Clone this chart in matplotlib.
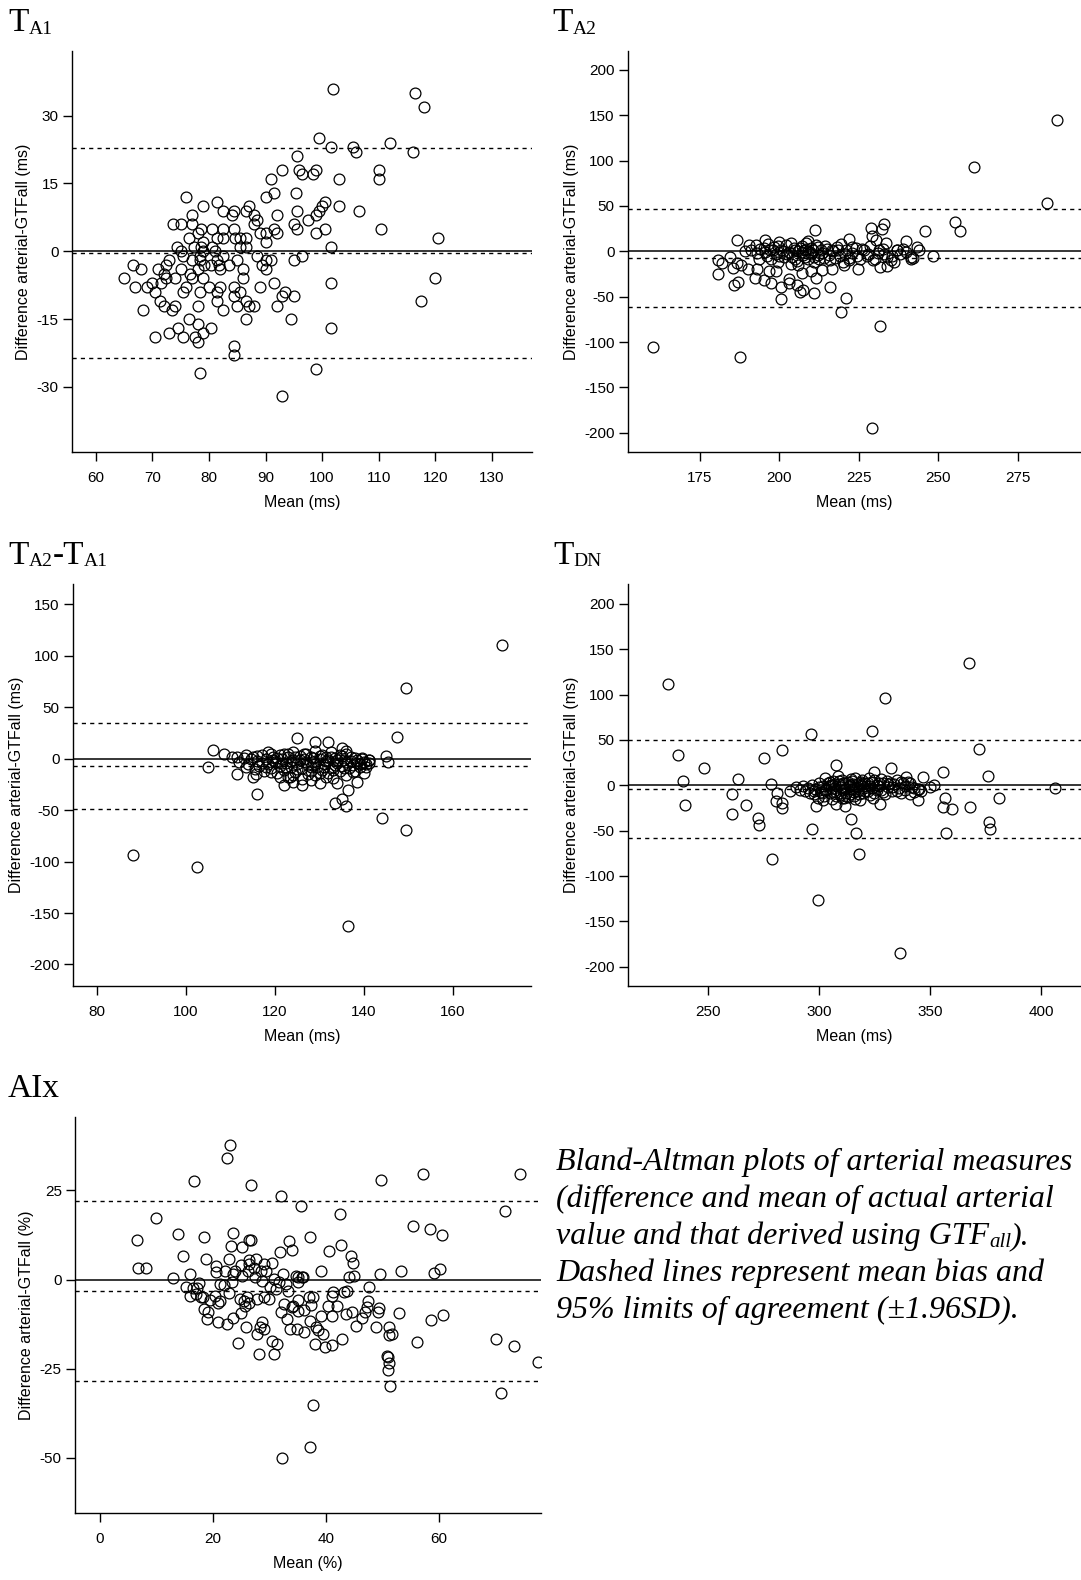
import matplotlib
matplotlib.use('Agg')
import matplotlib.pyplot as plt

plt.rcParams['font.family'] = ['Liberation Sans', 'DejaVu Sans']
plt.rcParams['axes.unicode_minus'] = False

W, H = 1081, 1580

# (mean, difference) pairs
ta1_points = [
    (102, 36), (116.5, 35), (118, 32), (99.5, 25), (101.5, 23), (105.5, 23), (106, 22), (112, 24), (116, 22), (95.5, 21),
    (93, 18), (96, 18), (96.5, 17), (98.4, 17), (99, 18), (103, 16), (110, 18), (110, 16), (91, 16), (91.5, 13),
    (95.4, 13), (90, 12), (76, 12), (81.5, 11), (79, 10), (87, 10), (103, 10), (100.5, 11), (100, 10), (99.5, 9),
    (99, 8), (95.5, 9), (106.5, 9), (82.5, 9), (84.5, 9), (86.5, 9), (84, 8), (88, 8), (92, 8), (77, 8),
    (88.5, 7), (97.5, 7), (88, 6), (95, 6), (73.7, 6), (75, 6), (77, 6), (89, 4), (90, 4), (92, 4),
    (91.5, 5), (95.6, 5), (100.5, 5), (99, 4), (110.5, 5), (80.5, 5), (82.5, 5), (84.5, 5), (78.6, 5), (76.5, 3),
    (78, 4), (79, 2), (81.5, 3), (82.5, 3), (84.6, 3), (85.5, 3), (86.5, 3), (90, 2), (120.5, 3), (85.5, 1),
    (86.5, 1), (101.5, 1), (74.3, 1), (77.4, 1), (78.6, 1), (80.5, 1), (75, 0), (79, 0), (81, 0), (78.5, -1),
    (75.4, -1), (82.5, -1), (88.5, -1), (96.5, -1), (73, -2), (77, -2), (78.5, -2), (81.5, -2), (85, -2), (90, -2),
    (91, -2), (95, -2), (66.5, -3), (72.4, -3), (79.2, -3), (80.3, -3), (81.7, -3), (83.5, -3), (89.3, -3), (68, -4),
    (71, -4), (78, -4), (82, -4), (86, -4), (90, -4), (75, -4), (72, -5), (76.7, -5), (65, -6), (72.4, -6),
    (74, -6), (77, -6), (79, -6), (86, -6), (71.5, -7), (70, -7), (91.5, -7), (101.5, -7), (67, -8), (69, -8),
    (76, -8), (80, -8), (82, -8), (84.4, -8), (89, -8), (70.5, -9), (75.4, -9), (78.5, -9), (81.5, -9), (85.5, -9),
    (93.5, -9), (84.4, -10), (93, -10), (95, -10), (71.4, -11), (81.5, -11), (86.5, -11), (72, -12), (74, -12), (78, -12),
    (85, -12), (87, -12), (88, -12), (92, -12), (68.4, -13), (73.4, -13), (82.5, -13), (76.5, -15), (86.5, -15), (94.5, -15),
    (78, -16), (74.5, -17), (80.3, -17), (101.5, -17), (73, -18), (79, -18), (70.5, -19), (75.4, -19), (77.5, -19), (78, -20),
    (84.5, -21), (84.5, -23), (99, -26), (78.5, -27), (93, -32), (120, -6), (117.5, -11),
]

ta2_points = [
    (287.3, 145), (261.3, 92.6), (284.2, 53), (255.4, 32.7), (257, 22), (245.8, 22), (233, 30), (228.8, 26), (232.3, 24.6),
    (229.3, 17), (230.5, 13), (233.5, 9), (240, 11), (243.2, 4.4), (239, 3), (237, 1.5), (248.4, -5), (241.6, -6),
    (241.4, -8), (222, 14), (211.3, 23), (186.5, 13), (190.4, 6.6), (195.6, 13), (200, 10), (180.7, -10), (181.8, -12.5),
    (180.5, -25), (184.3, -6), (185.5, -18), (185.6, -37), (187, -34), (186.5, -13), (188, -15), (190, -19), (189.2, 0),
    (192.2, -29), (193, -19), (195, -32), (197.4, -35), (196.7, -22), (199, -22), (200.4, -39), (200.5, -52.6), (203, -30),
    (203, -35), (205.6, -37), (206.4, -45), (207.5, -42.6), (207, -24), (206, -15), (209.8, -22), (211.5, -29), (211, -45.6),
    (213.3, -20.6), (216, -39.7), (220.9, -52), (219.5, -67), (231.8, -82), (229.3, -195), (160.1, -106), (187.5, -117),
    (224.8, -19), (220.2, -15), (216.7, -19), (231.8, -17.6), (233.9, -16), (235, -9.6),
    (191.2, 1.4), (192.5, 7), (192.8, -2.3), (193.5, -8), (195, 4), (196, -5), (197, 1), (198.3, 5), (199, -3), (199.5, -11.5),
    (200.5, 2), (201.5, -6), (202, 7), (203, -1), (203.5, -14), (204.5, 4), (205, -8), (206, 0), (207, 6), (207.5, -4),
    (208, 2), (208.5, 9), (209, -8), (209.5, -1), (210, 4), (211, -12), (211.5, 7), (212, -4), (213, 1), (214, -7),
    (215, 3), (216, -10), (217, 0), (218, 5), (219, -5), (220, -12), (221, 2), (222, -7), (223, -2), (224, 4),
    (225.5, -9), (226.5, 1), (227.5, -5), (228.5, 6), (230, -8), (231, -2), (232.5, 3), (234, -6), (236, -12), (237, 2),
    (194, 3), (195.5, -1), (196.5, 8), (197.5, -8), (198, 2), (199.5, 6), (200, -5), (201, 0), (202.5, -3), (203.5, 9),
    (204, -6), (205, 2), (205.5, -11), (206.5, 4), (207, -1), (208, -6), (208.5, 3), (209, 11), (210, -3), (210.5, 1),
    (211, -6), (212, 5), (212.5, -9), (213.5, -2), (214.5, 6), (215.5, -4), (216.5, 2), (217.5, -7), (218.5, 1), (219.5, 8),
    (220.5, -3), (222, -10), (223, 5), (224.5, -5), (226, 3), (228, -3), (229.5, -10), (231.5, 1), (233, -3), (235.5, -5),
    (238, -3), (240, -1), (242, -7), (244, 2),
]

ta2ta1_points = [
    (170.9, 110), (149.4, 69), (147.3, 21.3), (144, -58), (149.4, -69), (88, -94), (102.5, -105), (136.4, -163),
    (136.4, -30.6), (133.4, -43), (135, -39), (136, -46), (138.4, -23), (140, -14), (116, -34), (125, 20), (129, 16),
    (131.8, 16), (135, 10), (136, 7), (106, 8.4), (108.5, 5), (105, -8), (110.3, 1.6), (111.5, 1.6), (111.5, -15),
    (113.4, 3.5), (115, -18), (115.8, -15), (122, -26), (126, -26), (128, -21), (130, -24), (134, -24), (145, 2.6),
    (145.4, -3), (141, -1), (139.6, 0.6), (131.5, -17.7), (121, -18), (123.3, -18), (124, -22.6),
    (112, -3), (113, 1), (113.5, -8), (114, -5), (115, 2), (115.5, -10), (116, -2), (116.5, -7), (117, 4), (117.5, -12),
    (118, 0), (118.5, 6), (118.5, -5), (119, -9), (119.5, 2), (120, -3), (120.5, -14), (121, 4), (121, -7), (121.5, 0),
    (122, -11), (122, 5), (122.5, -4), (123, -18), (123, 2), (123.5, -8), (124, -1), (124, 6), (124.5, -13), (125, -5),
    (125.5, 3), (126, -9), (126, -20), (126.5, 0), (127, 5), (127.5, -6), (128, -12), (128, 2), (128.5, -3), (129, -16),
    (129, 7), (129.5, -8), (130, 0), (130.5, 4), (130.5, -11), (131, -5), (131.5, 2), (132, -14), (132, -1), (132.5, 6),
    (133, -8), (133, -19), (133.5, 1), (134, -4), (134.5, -12), (135, 3), (135, -7), (135.5, -1), (136, -16), (136, 5),
    (136.5, -9), (137, -2), (137.5, -6), (138, 1), (138, -12), (138.5, -4), (139, -8), (139.5, 0), (140, -3), (140.5, -5),
    (141, -1), (141.2, -4),
    (114.5, 0), (116, 3), (117, -4), (118, -8), (119, 5), (119.5, -1), (120.5, 1), (121.5, -4), (122.5, -8), (123, 5),
    (123.5, -2), (124.5, 2), (125, -10), (125.5, -1), (126.5, 5), (127, -3), (127.5, -15), (128.5, 1), (129, -5), (130, -14),
    (130, 3), (131, -8), (131.5, -2), (132.5, 2), (133, -11), (134, -1), (134.5, 4), (135.5, -9), (136, -3), (137, 2),
    (137.5, -13), (138.5, -1), (139, -5), (140.5, -8), (133.5, -6), (128, -8), (124, -16), (119, -13),
]

tdn_points = [
    (232.2, 112), (236.7, 33), (239, 4.4), (240, -21.7), (248.5, 19.5), (261, -10), (261, -31.6), (263.6, 7),
    (267.3, -21.7), (272.6, -36.4), (273, -43.8), (275.2, 30), (278.6, 1), (279.1, -81.6), (281.4, -8.8), (281, -17.3),
    (283.6, 39), (283.3, -20), (283.7, -25.4), (287, -6), (296.6, 57), (297.2, -47.8), (299.5, -127), (299, -22.8),
    (307.7, 22), (307.7, -20.6), (312, -22.4), (314.5, -36.8), (316.6, -53), (318, -75.7), (324, 60.3), (330, 96),
    (336.5, -184.6), (332.5, 19.5), (339.2, 9.6), (344.5, -16.5), (347, 8.8), (352, 0.4), (356, 14.3), (356, -23.5),
    (357, -13.6), (357.4, -53), (360, -25.7), (367.5, 135), (368, -23.5), (372, 40), (376, 10.3), (376.5, -40.4),
    (377, -47.8), (381, -13.6), (406.3, -3), (325, 14.3), (327.5, -20.6), (324.4, -14.3), (350, -2), (344.5, -4.4),
    (290, -2), (291.5, -5), (293, -1), (294, -6), (295, -3), (296, -8), (297, 0), (298, -10), (298.5, -4), (299.5, -14),
    (300, 2), (301, -7), (302, -1), (302.5, -12), (303, 8), (303.5, -4), (304, 3), (305, -9), (305.5, 0), (306, -15),
    (306.5, 5), (307, -3), (308, -7), (308.5, 10), (309, 1), (309.5, -11), (310, -2), (310.5, 6), (311, -5), (311.5, -14),
    (312, 2), (312.5, -8), (313, 4), (313.5, -1), (314, -10), (314.5, 7), (315, -4), (315.5, 1), (316, -12), (316.5, 8),
    (317, -2), (317.5, -6), (318, 3), (318.5, -16), (319, 0), (319.5, 6), (320, -9), (320.5, -3), (321, 2), (322, -6),
    (322.5, 8), (323, -1), (324, 4), (325, -8), (326, 0), (327, 3), (328, -5), (329, 2), (330, -10), (330.5, 5),
    (331, -2), (332, 3), (333, -6), (334, 1), (335, 6), (336, -3), (337, -8), (338, 2), (339, -5), (340, 4),
    (341, -10), (342, -2), (343, -7), (345, -4), (346, -6),
    (298, -6), (300, -2), (301.5, -9), (303, -5), (304.5, -1), (305, 4), (306.5, -7), (307.5, 1), (308, -12), (309, 5),
    (310, -8), (311, 3), (312, -4), (313, -13), (314, 0), (315, 5), (316, -7), (317, 1), (318, -10), (319, 4),
    (320, -1), (321, -6), (322, 3), (323, -11), (324, -3), (325, 6), (326, -5), (327, -1), (328, 7), (329, -7),
    (331, 1), (333, -2), (335, -6), (337, 4), (339, -1), (341, 3), (343, -3), (310.5, -14), (316.5, -15), (302, -16),
]

aix_points = [
    (6.6, 11.2), (6.7, 3.2), (8.1, 3.1), (9.9, 17.4), (12.9, 0.4), (13.9, 12.9), (14.7, 6.6), (15.2, -2.2), (15.9, 1.5), (16, -4.7),
    (16.6, 27.6), (16.5, -2.3), (17.1, -2.3), (17, -4), (17.5, -1), (17.9, -4.8), (18.2, -5), (18.4, 12), (18.7, 5.7), (18.4, -8.4),
    (19, -11), (19.2, -9), (19.5, -5.8), (20.5, 3.8), (20.6, 2.2), (20.3, -4.5), (20.8, -12), (20.8, -6.5), (21.2, -1.2), (21.3, -6),
    (22, -1.5), (22.1, 2.3), (22.4, 34), (22.8, -3.7), (22.8, 5.7), (23, 37.7), (23.1, 9.5), (23.5, 13), (23.4, -0.6), (23.6, 1.5),
    (23.9, 2.5), (23.6, -10.9), (22.4, -12.6), (24.4, -17.9), (24.7, -5.4), (25, 4.1), (25.1, 1.1), (25.2, 9), (25, -9.5), (25.4, -6.1),
    (25.7, -7.4), (25.8, -13.4), (26, -5), (26.3, 5.5), (26.2, 2.5), (26.4, 4.4), (26.3, 11.1), (26.8, 11.2), (26.3, -6.6), (26.7, 26.4),
    (27.4, 0.7), (27.6, 5.8), (27.3, 3.2), (27.7, -5.4), (27.7, -15.3), (28.1, -21), (28.4, -13.4), (28.7, -12), (28.5, 2.5), (28.7, -0.3),
    (29, 4.4), (29.1, -5), (29.3, 2.5), (29, -13.9), (29.9, -5.4), (30, -2.2), (30.4, 4.6), (30.5, -17.2), (30.7, -20.9), (30.8, 0.1),
    (31.1, -2.6), (31.4, -18), (31.7, -0.7), (31.9, 7.7), (32, 23.5), (32.2, -50.2), (32.1, -9.2), (32.4, 1.6), (32.6, -6.8), (32.9, -1.2),
    (33, -11), (33.2, -3.3), (33.4, 10.8), (33.7, -14), (34, 8.4), (34, -7.8), (34.2, -7.3), (34.6, 1.1), (34.8, -14), (35, 0.8),
    (35, -5.7), (35.1, -0.7), (35.5, 20.7), (35.1, -8.7), (35.7, 0.7), (36, 0.6), (36.1, -8.5), (36.1, -14.6), (37.1, 12), (37, -5),
    (37.3, -7.1), (37.6, -4.8), (37.2, -11.7), (37.6, -35.1), (37.2, -46.9), (38.1, -18.1), (38.3, -13.4), (38.5, -14.1), (39.1, 2.3), (39.1, -10.3),
    (39.5, -15.4), (39.8, -18.8), (40.5, 7.9), (40.4, -7.5), (41, -18.5), (41.1, -4.7), (41.2, -3.4), (41.1, -10.1), (41.9, -7.5), (42.4, 18.5),
    (42.6, 9.8), (42.8, -16.8), (43.1, -3.6), (43.7, -3.1), (43.5, -9.6), (44, 0.6), (44.4, 6.7), (44.5, -9.2), (44.7, 4.7), (44.9, 1.1),
    (45.3, -13), (46.3, -10.9), (46.8, -9), (47.3, -7.6), (47.4, -5.9), (47.6, -2.2), (48.9, -13.4), (49.1, -9), (49.3, -8), (49.6, 1.5),
    (49.7, 27.9), (50.7, -21.4), (50.9, -25.4), (51, -21.6), (51.2, -23.5), (51.1, -13.4), (51.2, -15.7), (51.3, -30), (51.7, -15.4), (52.9, -9.4),
    (53.3, 2.3), (55.3, 15), (56.1, -17.6), (57.2, 29.5), (58.4, 14.2), (58.6, -11.3), (59, 1.7), (60.1, 3), (60.5, 12.6), (60.7, -9.9),
    (70, -16.7), (70.9, -31.9), (71.6, 19.3), (73.2, -18.6), (74.2, 29.5), (77.5, -23),
]

# mean bias, lower and upper limits of agreement
ta1_lines = (-0.4, -23.5, 22.8)
ta2_lines = (-7.0, -61.4, 46.3)
ta2ta1_lines = (-7.1, -49.4, 35.1)
tdn_lines = (-4.4, -58.5, 50.0)
aix_lines = (-3.1, -28.6, 22.0)

fig = plt.figure(figsize=(W / 100, H / 100), dpi=100)


def add_axes(left, right, top, bottom):
    return fig.add_axes([left / W, 1 - bottom / H, (right - left) / W, (bottom - top) / H])


def bland_altman(ax, points, lines, xlim, ylim, xticks, yticks, unit):
    xs = [p[0] for p in points]
    ys = [p[1] for p in points]
    ax.axhline(0, color='black', lw=1.1, zorder=1)
    for v in lines:
        ax.axhline(v, color='black', lw=1.0, ls=(0, (3, 3)), zorder=1)
    ax.plot(xs, ys, 'o', mfc='none', mec='black', ms=7.8, mew=0.9, zorder=2)
    ax.set_xlim(xlim)
    ax.set_ylim(ylim)
    ax.set_xticks(xticks)
    ax.set_yticks(yticks)
    ax.spines[['top', 'right']].set_visible(False)
    ax.spines[['left', 'bottom']].set_linewidth(1.0)
    ax.tick_params(direction='out', length=6.5, width=1.0, labelsize=11)
    ax.tick_params(axis='x', pad=7.5)
    ax.tick_params(axis='y', pad=3)
    ax.set_xlabel('Mean (%s)' % unit, fontsize=11.5, labelpad=7)
    ax.set_ylabel('Difference arterial-GTFall (%s)' % unit, fontsize=11.5, labelpad=4)


def rich_text(x, y, parts):
    # parts: (text, size, drop in px, style) drawn one after another on one baseline
    r = fig.canvas.get_renderer()
    for s, size, dy, style in parts:
        t = fig.text(x / W, 1 - (y + dy) / H, s, fontsize=size, style=style,
                     family=['Liberation Serif', 'DejaVu Serif'], ha='left', va='baseline')
        x = t.get_window_extent(renderer=r).x1


ax1 = add_axes(72, 532, 51, 452)
bland_altman(ax1, ta1_points, ta1_lines, (55.8, 137.1), (-44.4, 44.3),
             range(60, 131, 10), [-30, -15, 0, 15, 30], 'ms')

ax2 = add_axes(628, 1081, 51, 452)
bland_altman(ax2, ta2_points, ta2_lines, (152.3, 295), (-221.3, 220.9),
             [175, 200, 225, 250, 275], range(-200, 201, 50), 'ms')

ax3 = add_axes(73, 531, 584, 986)
bland_altman(ax3, ta2ta1_points, ta2ta1_lines, (74.6, 177.5), (-220.9, 169.7),
             [80, 100, 120, 140, 160], range(-200, 151, 50), 'ms')

ax4 = add_axes(628, 1081, 584, 986)
bland_altman(ax4, tdn_points, tdn_lines, (214.2, 418), (-221.4, 222),
             [250, 300, 350, 400], range(-200, 201, 50), 'ms')

ax5 = add_axes(75, 541, 1117, 1513)
bland_altman(ax5, aix_points, aix_lines, (-4.4, 78), (-65.5, 45.6),
             [0, 20, 40, 60], [-50, -25, 0, 25], '%')

# panel titles
rich_text(8, 31, [('T', 24, 0, 'normal'), ('A1', 14, 2.5, 'normal')])
rich_text(552, 31, [('T', 24, 0, 'normal'), ('A2', 14, 2.5, 'normal')])
rich_text(8, 564, [('T', 24, 0, 'normal'), ('A2', 14, 2.5, 'normal'),
                   ('-T', 24, 0, 'normal'), ('A1', 14, 2.5, 'normal')])
rich_text(553, 564, [('T', 24, 0, 'normal'), ('DN', 14, 2.5, 'normal')])
rich_text(8, 1097, [('AIx', 24, 0, 'normal')])

# caption
cap = 23.0
rich_text(556, 1170, [('Bland-Altman plots of arterial measures', cap, 0, 'italic')])
rich_text(556, 1207, [('(difference and mean of actual arterial', cap, 0, 'italic')])
rich_text(556, 1244, [('value and that derived using GTF', cap, 0, 'italic'),
                      ('all', 15, 3, 'italic'), (').', cap, 0, 'italic')])
rich_text(556, 1281, [('Dashed lines represent mean bias and', cap, 0, 'italic')])
rich_text(556, 1318, [('95% limits of agreement (\u00b11.96SD).', cap, 0, 'italic')])

fig.savefig('out.png', dpi=100)
